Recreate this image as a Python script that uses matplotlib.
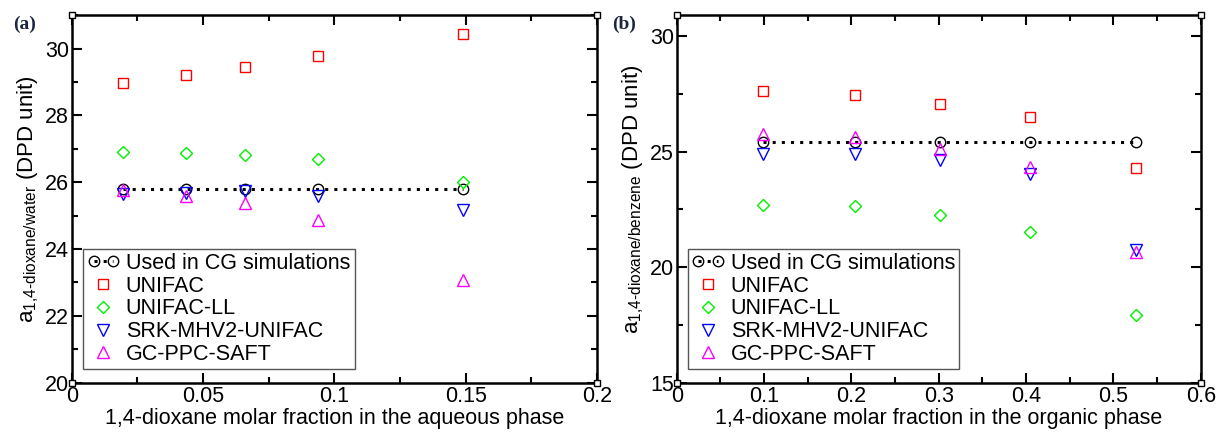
import numpy as np
import matplotlib
matplotlib.use("Agg")
import matplotlib.pyplot as plt
from matplotlib.ticker import MultipleLocator
from matplotlib.legend_handler import HandlerLine2D

plt.rcParams['font.family'] = ['Liberation Sans', 'DejaVu Sans']
plt.rcParams['mathtext.fontset'] = 'custom'
plt.rcParams['mathtext.rm'] = 'Liberation Sans'
plt.rcParams['mathtext.it'] = 'Liberation Sans'

# panel (a): aqueous phase
xa = [0.0194, 0.0434, 0.066, 0.0937, 0.1488]
cg_a = [25.8, 25.8, 25.8, 25.8, 25.8]
unifac_a = [28.97, 29.2, 29.46, 29.79, 30.43]
unifac_ll_a = [26.89, 26.86, 26.82, 26.68, 26.02]
srk_a = [25.65, 25.67, 25.73, 25.6, 25.18]
saft_a = [25.77, 25.6, 25.39, 24.87, 23.07]

# panel (b): organic phase
xb = [0.0986, 0.2036, 0.302, 0.405, 0.526]
cg_b = [25.4, 25.4, 25.4, 25.4, 25.4]
unifac_b = [27.6, 27.44, 27.07, 26.49, 24.29]
unifac_ll_b = [22.67, 22.63, 22.25, 21.54, 17.95]
srk_b = [24.9, 24.91, 24.65, 24.05, 20.72]
saft_b = [25.78, 25.64, 25.09, 24.33, 20.65]

labels = ["Used in CG simulations", "UNIFAC", "UNIFAC-LL",
          "SRK-MHV2-UNIFAC", "GC-PPC-SAFT"]

FS = 15.5

fig = plt.figure(figsize=(12.18, 4.32), dpi=100)
ax1 = fig.add_axes([0.0589, 0.114, 0.4313, 0.851])
ax2 = fig.add_axes([0.5556, 0.114, 0.4302, 0.851])


def draw(ax, x, cg, uf, ufll, srk, saft):
    ms = 7.5
    h = []
    h += ax.plot(x, cg, color='black', ls=(0, (1, 2)), lw=2.2, marker='o',
                 ms=ms, mfc='none', mec='black', mew=1.0)
    h += ax.plot(x, uf, ls='none', marker='s', ms=ms, mfc='none', mec='#ff0000', mew=1.0)
    h += ax.plot(x, ufll, ls='none', marker='D', ms=ms - 1, mfc='none', mec='#00ee00', mew=1.0)
    h += ax.plot(x, srk, ls='none', marker='v', ms=ms + 1, mfc='none', mec='#0000ff', mew=1.0)
    h += ax.plot(x, saft, ls='none', marker='^', ms=ms + 1, mfc='none', mec='#ff00ff', mew=1.0)
    hm = {hh: HandlerLine2D(numpoints=1) for hh in h[1:]}
    ax.legend(h, labels, loc='lower left', bbox_to_anchor=(0.021, 0.037),
              borderaxespad=0, fontsize=FS, numpoints=2, handler_map=hm,
              handlelength=1.5, handletextpad=0.3, labelspacing=0.08,
              borderpad=0.2, fancybox=False, framealpha=1,
              edgecolor='#555555')
    for s in ax.spines.values():
        s.set_linewidth(1.8)
    ax.tick_params(which='both', direction='in', top=True, right=True,
                   labelsize=FS, width=1.5, pad=2)
    ax.tick_params(which='major', length=7)
    ax.tick_params(which='minor', length=4)
    # corner boxes
    ax.plot([0, 1, 0, 1], [0, 0, 1, 1], ls='none', marker='s', ms=4,
            mfc='white', mec='black', mew=1, transform=ax.transAxes,
            clip_on=False, zorder=5)


draw(ax1, xa, cg_a, unifac_a, unifac_ll_a, srk_a, saft_a)
draw(ax2, xb, cg_b, unifac_b, unifac_ll_b, srk_b, saft_b)

ax1.set_xlim(0, 0.2)
ax1.set_ylim(20, 31)
ax1.xaxis.set_minor_locator(MultipleLocator(0.025))
ax1.yaxis.set_major_locator(MultipleLocator(2))
ax1.yaxis.set_minor_locator(MultipleLocator(1))
ax1.set_xticks([0, 0.05, 0.1, 0.15, 0.2], ['0', '0.05', '0.1', '0.15', '0.2'])
ax1.set_xlabel('1,4-dioxane molar fraction in the aqueous phase', fontsize=FS, labelpad=1)
ax1.set_ylabel(r'a$_{\text{1,4-dioxane/water}}$ (DPD unit)', fontsize=16, labelpad=3)

ax2.set_xlim(0, 0.6)
ax2.set_ylim(15, 30.9)
ax2.xaxis.set_minor_locator(MultipleLocator(0.05))
ax2.yaxis.set_major_locator(MultipleLocator(5))
ax2.yaxis.set_minor_locator(MultipleLocator(2.5))
ax2.set_xticks([0, 0.1, 0.2, 0.3, 0.4, 0.5, 0.6], ['0', '0.1', '0.2', '0.3', '0.4', '0.5', '0.6'])
ax2.set_xlabel('1,4-dioxane molar fraction in the organic phase', fontsize=FS, labelpad=1)
ax2.set_ylabel(r'a$_{\text{1,4-dioxane/benzene}}$ (DPD unit)', fontsize=16, labelpad=3)

fig.text(0.0107, 0.943, '(a)', fontsize=14, fontweight='bold',
         family=['Liberation Serif'], color='#1c2640', va='center')
fig.text(0.5025, 0.943, '(b)', fontsize=14, fontweight='bold',
         family=['Liberation Serif'], color='#1c2640', va='center')

fig.savefig('out.png', dpi=100)
